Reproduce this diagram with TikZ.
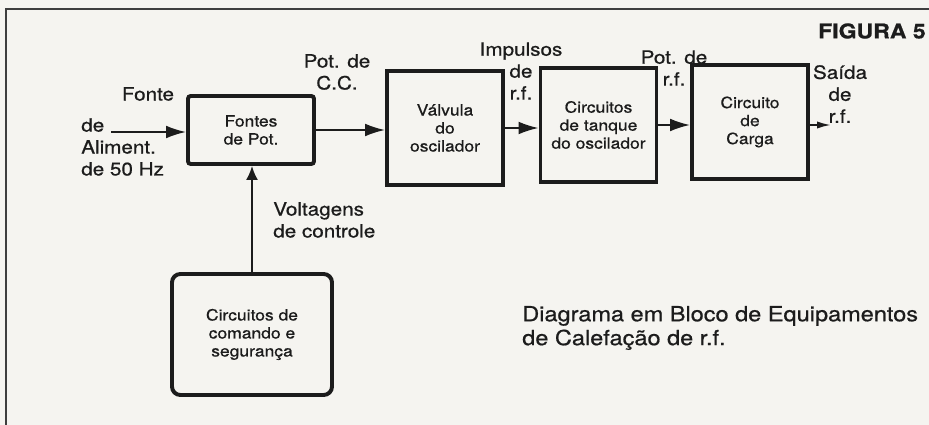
\documentclass[tikz,border=0pt]{standalone}
\usepackage{fontspec}
\setmainfont{TeX Gyre Heros}[FakeStretch=1.13, FakeBold=0.7]
\usetikzlibrary{arrows.meta,positioning}
\definecolor{paper}{RGB}{245,244,240}
\definecolor{ink}{RGB}{28,28,28}

\begin{document}
\begin{tikzpicture}[
    x=0.025cm, y=-0.025cm,
    block/.style={draw=ink, line width=2.8pt, minimum width=2.9cm, minimum height=2.85cm, align=center, text=ink, font=\fontsize{11}{12.8}\selectfont, inner sep=2pt},
    sigtext/.style={align=center, text=ink, font=\fontsize{13}{15.6}\selectfont, inner sep=0pt},
    flow/.style={draw=ink, line width=1.3pt, -{Latex[length=5mm,width=3.2mm]}},
    frameline/.style={draw=ink!85, line width=1.4pt}
]

% Page background and frame
\fill[paper] (0,0) rectangle (929,425);
\useasboundingbox (0,0) rectangle (929,425);
\draw[frameline] (6,425) -- (6,9) -- (929,9);

% Blocks
\node[block, minimum width=3.15cm, minimum height=1.7cm, rounded corners=2pt] (fontes) at (251,130) {Fontes\\de Pot.};
\node[block] (valvula) at (445,128) {Válvula\\do\\oscilador};
\node[block] (tanque) at (598.5,125) {Circuitos\\de tanque\\do oscilador};
\node[block] (carga) at (750,122) {Circuito\\de\\Carga};
\node[block, minimum width=4cm, minimum height=3.025cm, rounded corners=6pt] (comando) at (252,334.5) {Circuitos de\\comando e\\segurança};

% Free ends
\coordinate (aliment) at (111,132);
\coordinate (saida) at (831,125);

% Connectors
\draw[flow] (aliment) -- (aliment -| fontes.west);
\draw[flow] (fontes.east) -- (fontes.east -| valvula.west);
\draw[flow] (valvula.east) -- (valvula.east -| tanque.west);
\draw[flow] (tanque.east) -- (tanque.east -| carga.west);
\draw[flow, -{Latex[length=3.5mm,width=1.8mm]}] (carga.east |- saida) -- (saida);
\draw[flow, -{Latex[length=3.5mm,width=3mm]}] (comando.north) -- (comando.north |- fontes.south);

% Signal labels
\node[sigtext] (fonteLbl) at (148,94) {Fonte};
\node[sigtext, align=left, anchor=west] (alimLbl) at (81,147) {de\\Aliment.\\de 50 Hz};
\node[sigtext] (ccLbl) at (337,72) {Pot. de\\C.C.};
\node[sigtext] (impLbl) at (521,71) {Impulsos\\de\\r.f.};
\node[sigtext] (rfLbl) at (674,68) {Pot. de\\r.f.};
\node[sigtext] (saidaLbl) at (840,94) {Saída\\de\\r.f.};
\node[sigtext, align=left, anchor=west] (voltLbl) at (273,220) {Voltagens\\de controle};

% Title and caption
\node[anchor=east, inner sep=0pt, text=ink, font=\bfseries\fontsize{14.5}{16}\selectfont] (figLbl) at (926,31) {FIGURA 5};
\node[anchor=west, align=left, inner sep=0pt, text=ink, font=\fontsize{14.8}{17}\selectfont] (caption) at (522,328) {Diagrama em Bloco de Equipamentos\\de Calefação de r.f.};

\end{tikzpicture}
\end{document}
